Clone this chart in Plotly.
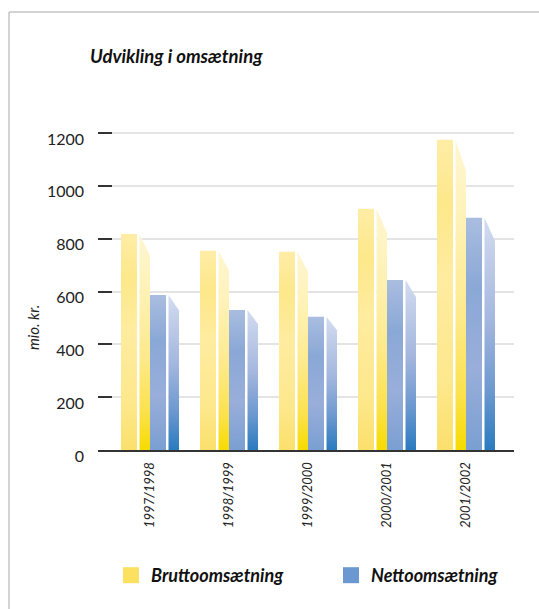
import plotly.graph_objects as go

periods = ["1997/1998", "1998/1999", "1999/2000", "2000/2001", "2001/2002"]
brutto = [818, 754, 750, 913, 1174]
netto = [587, 530, 504, 644, 879]
y_ticks = [0, 200, 400, 600, 800, 1000, 1200]

FONT = "Lato"
PX = 79.0  # pixels per category

# bar pieces as offsets from the category centre, in category units
FRONT_B = (-29 / PX, -13 / PX)
SIDE_B = (-10.5 / PX, 0 / PX)
FRONT_N = (0 / PX, 16 / PX)
SIDE_N = (18.5 / PX, 29 / PX)
SLOPE = 0.9

SC_FRONT_B = [[0, "#fbe06c"], [0.22, "#fde88c"], [0.55, "#ffec9f"], [0.8, "#fde88a"], [1, "#ffeda6"]]
SC_SIDE_B = [[0, "#f7db00"], [0.18, "#fbe24e"], [0.45, "#fdea8f"], [0.75, "#fff2b8"], [1, "#fff6d2"]]
SC_FRONT_N = [[0, "#7a9fd2"], [0.35, "#99aeda"], [0.7, "#8aa8d6"], [1, "#a9bde0"]]
SC_SIDE_N = [[0, "#2a7bbf"], [0.25, "#6c98cf"], [0.55, "#a3b6de"], [1, "#d3dcf0"]]


def bar_trace(x_c, span, value, scale, slanted):
    x0, x1 = x_c + span[0], x_c + span[1]
    far_top = value * SLOPE if slanted else value
    return go.Scatter(
        x=[x0, x0, x1, x1, x0],
        y=[0, value, far_top, 0, 0],
        mode="lines",
        line=dict(color="rgba(0,0,0,0)", width=0),
        fill="toself",
        fillgradient=dict(type="vertical", colorscale=scale),
        showlegend=False,
        hoverinfo="skip",
    )


def gap_trace(x_c, left, right, value):
    x = x_c + (left + right) / 2
    return go.Scatter(x=[x, x], y=[0, value], mode="lines",
                      line=dict(color="white", width=(right - left) * PX),
                      showlegend=False, hoverinfo="skip")


fig = go.Figure()
for i in range(len(periods)):
    fig.add_trace(gap_trace(i, FRONT_B[1], SIDE_B[0], brutto[i]))
    fig.add_trace(bar_trace(i, SIDE_B, brutto[i], SC_SIDE_B, True))
    fig.add_trace(bar_trace(i, FRONT_B, brutto[i], SC_FRONT_B, False))
    fig.add_trace(gap_trace(i, FRONT_N[1], SIDE_N[0], netto[i]))
    fig.add_trace(bar_trace(i, SIDE_N, netto[i], SC_SIDE_N, True))
    fig.add_trace(bar_trace(i, FRONT_N, netto[i], SC_FRONT_N, False))

for name, color, entry in [("Bruttoomsætning", "#fce05f", 175), ("Nettoomsætning", "#6b98d0", 150)]:
    fig.add_trace(go.Scatter(x=[None], y=[None], mode="markers", name=name, legendwidth=entry,
                             marker=dict(symbol="square", size=18, color=color)))

L, R, T, B = 98, 514, 123, 450
Y_TOP_PX = 133
W, H = 539, 609
fig.update_layout(
    width=W, height=H,
    margin=dict(l=L, r=W - R, t=T, b=H - B, autoexpand=False),
    paper_bgcolor="white", plot_bgcolor="white",
    title=dict(text="Udvikling i omsætning", x=90 / W, xref="container",
               xanchor="left", y=1 - 57 / H, yref="container", yanchor="middle",
               font=dict(family=FONT, size=18.5, color="#111", weight="bold", style="italic")),
    xaxis=dict(range=[-52 / PX, (R - L - 52) / PX], tickvals=list(range(len(periods))),
               ticktext=periods, tickangle=-90, showgrid=False, zeroline=False,
               showline=True, linecolor="#333", linewidth=2, ticks="",
               ticklabelstandoff=5,
               tickfont=dict(family=FONT, size=13, color="#222", style="italic")),
    yaxis=dict(range=[0, 1200 * (B - T) / (B - Y_TOP_PX)], tickvals=y_ticks, showgrid=True,
               gridcolor="#e4e4e4", gridwidth=2,
               zeroline=False, showline=False, ticks="inside", ticklen=14, tickwidth=1.5,
               tickcolor="#333", ticklabelstandoff=13, ticklabelshift=6,
               tickfont=dict(family=FONT, size=16, color="#222")),
    legend=dict(orientation="h", x=111 / W, xanchor="left", y=1 - 557 / H, yanchor="top",
                xref="container", yref="container",
                itemsizing="trace", traceorder="normal", bgcolor="rgba(0,0,0,0)",
                font=dict(family=FONT, size=18, color="#111", weight="bold", style="italic")),
    shapes=[
        dict(type="line", xref="paper", yref="paper", x0=(9 - L) / (R - L), x1=(W - L) / (R - L),
             y0=(B - 12) / (B - T), y1=(B - 12) / (B - T), line=dict(color="#c4c4c4", width=1.5)),
        dict(type="line", xref="paper", yref="paper", x0=(9 - L) / (R - L), x1=(9 - L) / (R - L),
             y0=(B - 12) / (B - T), y1=(B - H) / (B - T), line=dict(color="#c4c4c4", width=1.5)),
    ],
    annotations=[dict(text="mio. kr.", xref="paper", yref="paper", x=(33 - L) / (R - L),
                      y=(B - 328) / (B - T), textangle=-90, showarrow=False,
                      xanchor="center", yanchor="middle",
                      font=dict(family=FONT, size=15, color="#222", style="italic"))],
)
fig.write_html("out.html", config=dict(displayModeBar=False),
               post_script="document.body.style.margin='0';")
